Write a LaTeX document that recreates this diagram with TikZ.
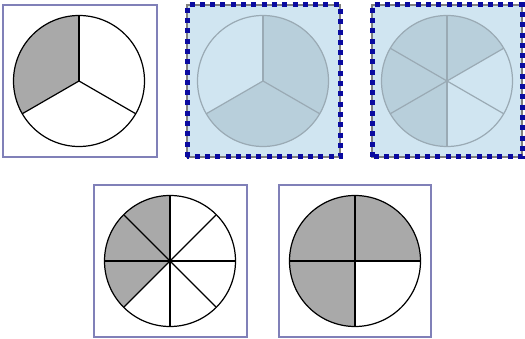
\documentclass[tikz,border=0pt]{standalone}
\definecolor{boxpurple}{RGB}{128,128,184}
\definecolor{lightblue}{RGB}{208,229,241}
\definecolor{blueshade}{RGB}{184,207,219}
\definecolor{blueline}{RGB}{154,170,180}
\definecolor{dashblue}{RGB}{10,10,160}
\definecolor{pieshade}{RGB}{169,169,169}
\tikzset{
  plainbox/.style={draw=boxpurple, line width=1.8pt, fill=white},
  bluebox/.style={fill=lightblue, draw=gray, line width=1.5pt},
  bluedash/.style={draw=dashblue, line width=5pt, dash pattern=on 5pt off 5.3pt},
  pieline/.style={draw=black, line width=1.2pt},
  bluepieline/.style={draw=blueline, line width=1.2pt},
}
\begin{document}
\begin{tikzpicture}[x=1pt,y=1pt]
\useasboundingbox (0,0) rectangle (525,339);
\def\R{65.5}
% boxes
\draw[plainbox] (3,182) rectangle (157,334);
\draw[bluebox] (187,182) rectangle (340,334);
\draw[bluedash] (187,182) rectangle (340,334);
\draw[bluebox] (372,182) rectangle (522,334);
\draw[bluedash] (372,182) rectangle (522,334);
\draw[plainbox] (94,2) rectangle (247,154);
\draw[plainbox] (279,2) rectangle (431,154);
% centers
\coordinate (c1) at (79,258);
\coordinate (c2) at (263,258);
\coordinate (c3) at (447,258);
\coordinate (c4) at (170,78);
\coordinate (c5) at (355,78);
% pie 1: thirds, upper-left shaded
\fill[white] (c1) circle (\R);
\fill[pieshade] (c1) -- ++(90:\R) arc[start angle=90,end angle=210,radius=\R] -- cycle;
\foreach \a in {90,-30,210} \draw[pieline] (c1) -- ++(\a:\R);
\draw[pieline] (c1) circle (\R);
% pie 2: thirds, blue
\fill[blueshade] (c2) -- ++(90:\R) arc[start angle=90,end angle=-150,radius=\R] -- cycle;
\foreach \a in {90,-30,210} \draw[bluepieline] (c2) -- ++(\a:\R);
\draw[bluepieline] (c2) circle (\R);
% pie 3: sixths, blue
\fill[blueshade] (c3) -- ++(30:\R) arc[start angle=30,end angle=270,radius=\R] -- cycle;
\foreach \a in {90,30,-30,-90,150,210} \draw[bluepieline] (c3) -- ++(\a:\R);
\draw[bluepieline] (c3) circle (\R);
% pie 4: eighths
\fill[white] (c4) circle (\R);
\fill[pieshade] (c4) -- ++(90:\R) arc[start angle=90,end angle=225,radius=\R] -- cycle;
\foreach \a in {0,45,...,315} \draw[pieline] (c4) -- ++(\a:\R);
\draw[pieline] (c4) circle (\R);
\fill (c4) circle (1.6);
% pie 5: quarters
\fill[white] (c5) circle (\R);
\fill[pieshade] (c5) -- ++(0:\R) arc[start angle=0,end angle=270,radius=\R] -- cycle;
\foreach \a in {0,90,180,270} \draw[pieline] (c5) -- ++(\a:\R);
\draw[pieline] (c5) circle (\R);
\end{tikzpicture}
\end{document}
